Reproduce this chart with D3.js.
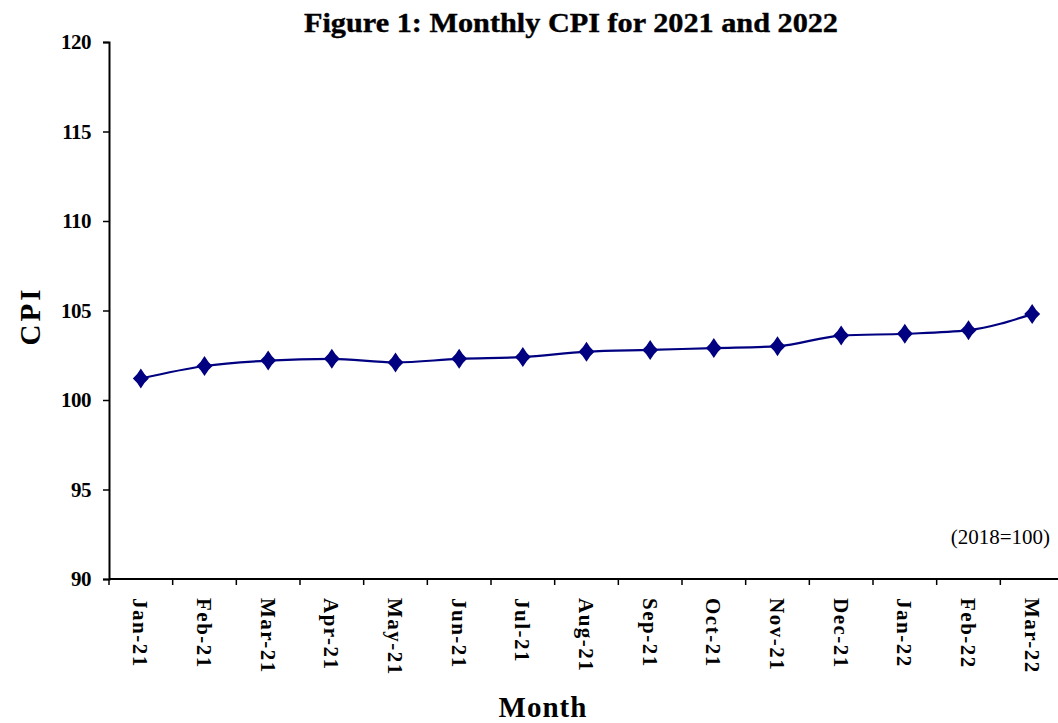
<!DOCTYPE html>
<html>
<head>
<meta charset="utf-8">
<script src="https://cdn.jsdelivr.net/npm/d3@7"></script>
<style>
  body { margin: 0; background: #fff; }
  text { font-family: "Liberation Serif", "Times New Roman", serif; }
</style>
</head>
<body>
<div id="chart"></div>
<script>
var months = ["Jan-21", "Feb-21", "Mar-21", "Apr-21", "May-21", "Jun-21", "Jul-21",
              "Aug-21", "Sep-21", "Oct-21", "Nov-21", "Dec-21", "Jan-22", "Feb-22", "Mar-22"];
var cpi = [101.2, 101.9, 102.2, 102.3, 102.1, 102.3, 102.4, 102.7, 102.8, 102.9,
           103.0, 103.6, 103.7, 103.9, 104.8];
var yTicks = [90, 95, 100, 105, 110, 115, 120];

var width = 1058, height = 723;
var margin = { top: 42, right: -6, bottom: 144, left: 109 };

var svg = d3.select("#chart").append("svg")
    .attr("width", width)
    .attr("height", height);

var x = d3.scaleBand()
    .domain(months)
    .range([margin.left, width - margin.right]);

var y = d3.scaleLinear()
    .domain([90, 120])
    .range([height - margin.bottom, margin.top]);

// y axis
var yAxis = svg.append("g")
    .attr("transform", "translate(" + margin.left + ",0)")
    .call(d3.axisLeft(y).tickValues(yTicks).tickSizeOuter(0).tickSize(6).tickPadding(12));
yAxis.select(".domain").attr("stroke-width", 2);
yAxis.selectAll(".tick line").attr("stroke-width", 1.5);
yAxis.selectAll("text")
    .style("font-size", "21px")
    .style("font-weight", "bold")
    .style("letter-spacing", "-0.5px")
    .attr("fill", "#000");

// x axis: ticks sit between categories
var xAxis = svg.append("g")
    .attr("transform", "translate(0," + (height - margin.bottom) + ")");
xAxis.append("line")
    .attr("x1", margin.left).attr("x2", width)
    .attr("stroke", "#000").attr("stroke-width", 2);
xAxis.selectAll(".tk")
    .data(months)
    .enter().append("line")
    .attr("x1", function(d) { return x(d); })
    .attr("x2", function(d) { return x(d); })
    .attr("y1", 0).attr("y2", 6)
    .attr("stroke", "#000").attr("stroke-width", 1.5);
xAxis.selectAll(".lbl")
    .data(months)
    .enter().append("text")
    .attr("transform", function(d) {
        return "translate(" + (x(d) + x.bandwidth() / 2) + ",19) rotate(90)";
    })
    .attr("dy", "0.35em")
    .style("font-size", "21px")
    .style("font-weight", "bold")
    .style("letter-spacing", "1.5px")
    .text(function(d) { return d; });

// line
var line = d3.line()
    .x(function(d, i) { return x(months[i]) + x.bandwidth() / 2; })
    .y(function(d) { return y(d); })
    .curve(d3.curveMonotoneX);

svg.append("path")
    .datum(cpi)
    .attr("fill", "none")
    .attr("stroke", "#000080")
    .attr("stroke-width", 2.2)
    .attr("d", line);

// diamond markers, sides a little concave
var dia = "M0,-10 Q3.6,-3.6 8,0 Q3.6,3.6 0,10 Q-3.6,3.6 -8,0 Q-3.6,-3.6 0,-10Z";
svg.selectAll(".pt")
    .data(cpi)
    .enter().append("path")
    .attr("d", dia)
    .attr("transform", function(d, i) {
        return "translate(" + (x(months[i]) + x.bandwidth() / 2) + "," + y(d) + ")";
    })
    .attr("fill", "#000080");

// title
svg.append("text")
    .attr("x", 571).attr("y", 32)
    .attr("text-anchor", "middle")
    .attr("textLength", 534)
    .attr("lengthAdjust", "spacingAndGlyphs")
    .style("font-size", "28px")
    .style("font-weight", "bold")
    .attr("stroke", "#000").attr("stroke-width", 0.4)
    .text("Figure 1: Monthly CPI for 2021 and 2022");

// axis titles
svg.append("text")
    .attr("transform", "translate(40,316) rotate(-90)")
    .attr("text-anchor", "middle")
    .style("font-size", "29px")
    .style("font-weight", "bold")
    .style("letter-spacing", "3px")
    .text("CPI");

svg.append("text")
    .attr("x", 543).attr("y", 717)
    .attr("text-anchor", "middle")
    .style("font-size", "29px")
    .style("font-weight", "bold")
    .style("letter-spacing", "1px")
    .text("Month");

svg.append("text")
    .attr("x", 1050).attr("y", 544)
    .attr("text-anchor", "end")
    .style("font-size", "21px")
    .text("(2018=100)");
</script>
</body>
</html>
